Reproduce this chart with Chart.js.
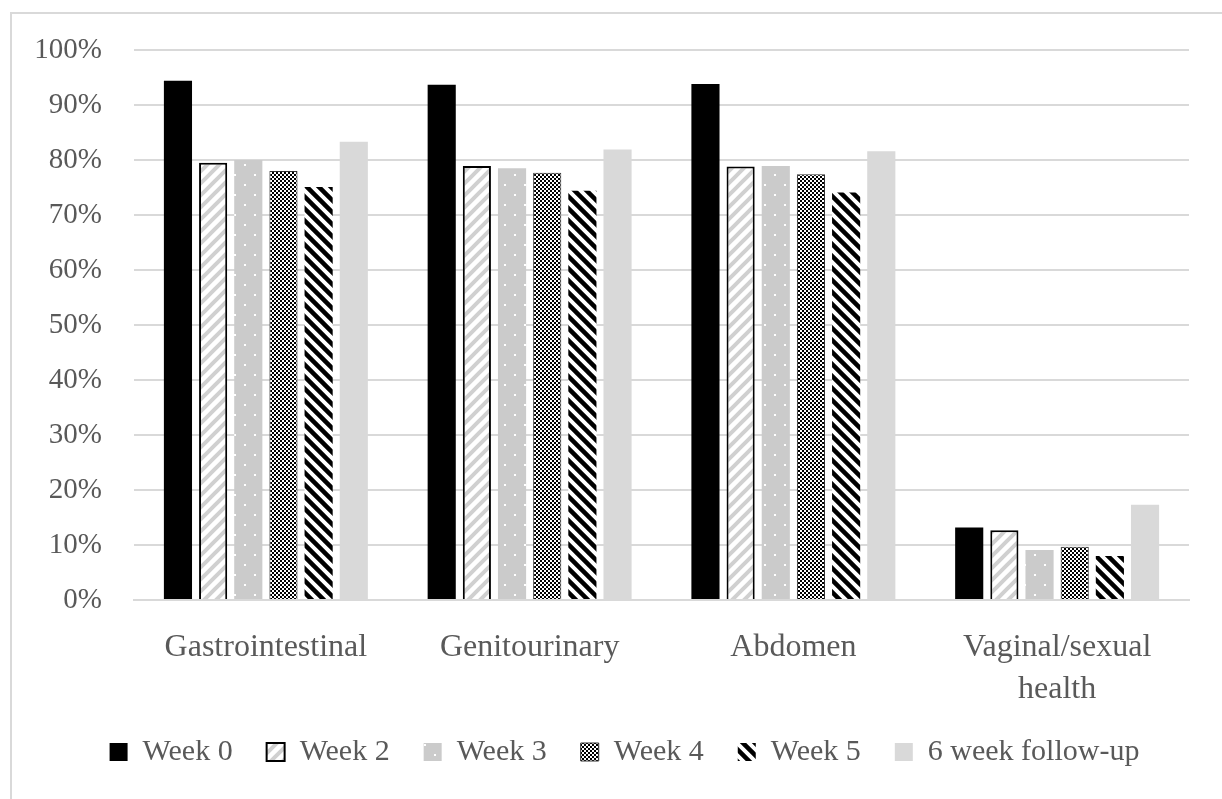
<!DOCTYPE html>
<html>
<head>
<meta charset="utf-8">
<script src="https://cdn.jsdelivr.net/npm/chart.js@4/dist/chart.umd.min.js"></script>
<style>
  html, body { margin: 0; padding: 0; background: #ffffff; }
  #wrap { width: 1222px; height: 799px; position: relative; }
</style>
</head>
<body>
<div id="wrap"><canvas id="c" width="1222" height="799"></canvas></div>
<script>
// ---- data ----
const categories = ["Gastrointestinal", "Genitourinary", "Abdomen", ["Vaginal/sexual", "health"]];
const seriesNames = ["Week 0", "Week 2", "Week 3", "Week 4", "Week 5", "6 week follow-up"];
const week0 = [94.4, 93.7, 93.8, 13.2];
const week2 = [79.5, 78.9, 78.8, 12.7];
const week3 = [80.0, 78.5, 78.9, 9.1];
const week4 = [78.0, 77.7, 77.4, 9.7];
const week5 = [75.1, 74.4, 74.1, 8.0];
const followUp = [83.3, 81.9, 81.6, 17.3];
const yTickLabels = ["0%", "10%", "20%", "30%", "40%", "50%", "60%", "70%", "80%", "90%", "100%"];

// ---- fill patterns ----
function makePattern(w, h, draw) {
  const c = document.createElement('canvas');
  c.width = w; c.height = h;
  const x = c.getContext('2d');
  draw(x, w, h);
  return x.createPattern(c, 'repeat');
}
const patLightUp = makePattern(12, 12, (x, w, h) => {
  x.fillStyle = '#ffffff'; x.fillRect(0, 0, w, h);
  x.strokeStyle = '#d0d0d0'; x.lineWidth = 4;
  x.beginPath();
  x.moveTo(-6, 6); x.lineTo(6, -6);
  x.moveTo(0, 12); x.lineTo(12, 0);
  x.moveTo(6, 18); x.lineTo(18, 6);
  x.stroke();
});
const patDots = makePattern(20, 20, (x, w, h) => {
  x.fillStyle = '#cbcbcb'; x.fillRect(0, 0, w, h);
  x.fillStyle = '#ffffff';
  x.fillRect(4, 4, 2, 2);
  x.fillRect(14, 14, 2, 2);
});
const patChecker = makePattern(4, 4, (x, w, h) => {
  x.fillStyle = '#ffffff'; x.fillRect(0, 0, w, h);
  x.fillStyle = '#000000';
  x.fillRect(0, 0, 2, 2);
  x.fillRect(2, 2, 2, 2);
});
const patDarkDown = makePattern(12, 12, (x, w, h) => {
  x.fillStyle = '#ffffff'; x.fillRect(0, 0, w, h);
  x.strokeStyle = '#000000'; x.lineWidth = 4.5;
  x.beginPath();
  x.moveTo(-6, 6); x.lineTo(6, 18);
  x.moveTo(0, 0); x.lineTo(12, 12);
  x.moveTo(6, -6); x.lineTo(18, 6);
  x.stroke();
});

const FONT = "'Liberation Serif', 'Times New Roman', serif";
const TEXT = '#595959';
const GRID = '#d9d9d9';

const frame = {
  id: 'frame',
  beforeDraw(chart) {
    const ctx = chart.ctx;
    ctx.save();
    ctx.fillStyle = '#ffffff';
    ctx.fillRect(0, 0, chart.width, chart.height);
    ctx.strokeStyle = GRID;
    ctx.lineWidth = 2;
    ctx.strokeRect(11, 13, 1400, 1000);
    ctx.restore();
  },
  afterLayout(chart) {
    // shift legend's centring box so the legend row sits where it does in the reference
    if (chart.legend) chart.legend.left += 50;
  }
};

new Chart(document.getElementById('c'), {
  type: 'bar',
  data: {
    labels: categories,
    datasets: [
      { label: seriesNames[0], data: week0, backgroundColor: '#000000', borderWidth: 0 },
      { label: seriesNames[1], data: week2, backgroundColor: patLightUp, borderColor: '#000000', borderWidth: 2 },
      { label: seriesNames[2], data: week3, backgroundColor: patDots, borderWidth: 0 },
      { label: seriesNames[3], data: week4, backgroundColor: patChecker, borderColor: '#333333', borderWidth: 1 },
      { label: seriesNames[4], data: week5, backgroundColor: patDarkDown, borderWidth: 0 },
      { label: seriesNames[5], data: followUp, backgroundColor: '#d9d9d9', borderWidth: 0 }
    ]
  },
  options: {
    responsive: false,
    animation: false,
    devicePixelRatio: 1,
    layout: { padding: { top: 50, left: 10, right: 33, bottom: 22 } },
    datasets: { bar: { categoryPercentage: 0.8, barPercentage: 0.8 } },
    plugins: {
      tooltip: { enabled: false },
      legend: {
        position: 'bottom',
        labels: {
          color: TEXT,
          font: { family: FONT, size: 30 },
          boxWidth: 18,
          boxHeight: 18,
          padding: 34
        }
      }
    },
    scales: {
      x: {
        grid: { display: false, drawTicks: false },
        border: { display: true, color: GRID, width: 2 },
        ticks: {
          color: TEXT,
          font: { family: FONT, size: 32, lineHeight: 1.33 },
          padding: 26,
          maxRotation: 0,
          minRotation: 0,
          autoSkip: false
        },
        afterFit(scale) {
          const lh = scale.chart.legend ? scale.chart.legend.height : 74;
          scale.height = 799 - 50 - 550 - 22 - lh;
        }
      },
      y: {
        min: 0,
        max: 100,
        grid: { color: GRID, lineWidth: 2, drawTicks: false },
        border: { display: false },
        ticks: {
          stepSize: 10,
          color: TEXT,
          font: { family: FONT, size: 29 },
          padding: 32,
          callback: (v, i) => yTickLabels[i]
        },
        afterFit(scale) { scale.width = 124; }
      }
    }
  },
  plugins: [frame]
});
</script>
</body>
</html>
